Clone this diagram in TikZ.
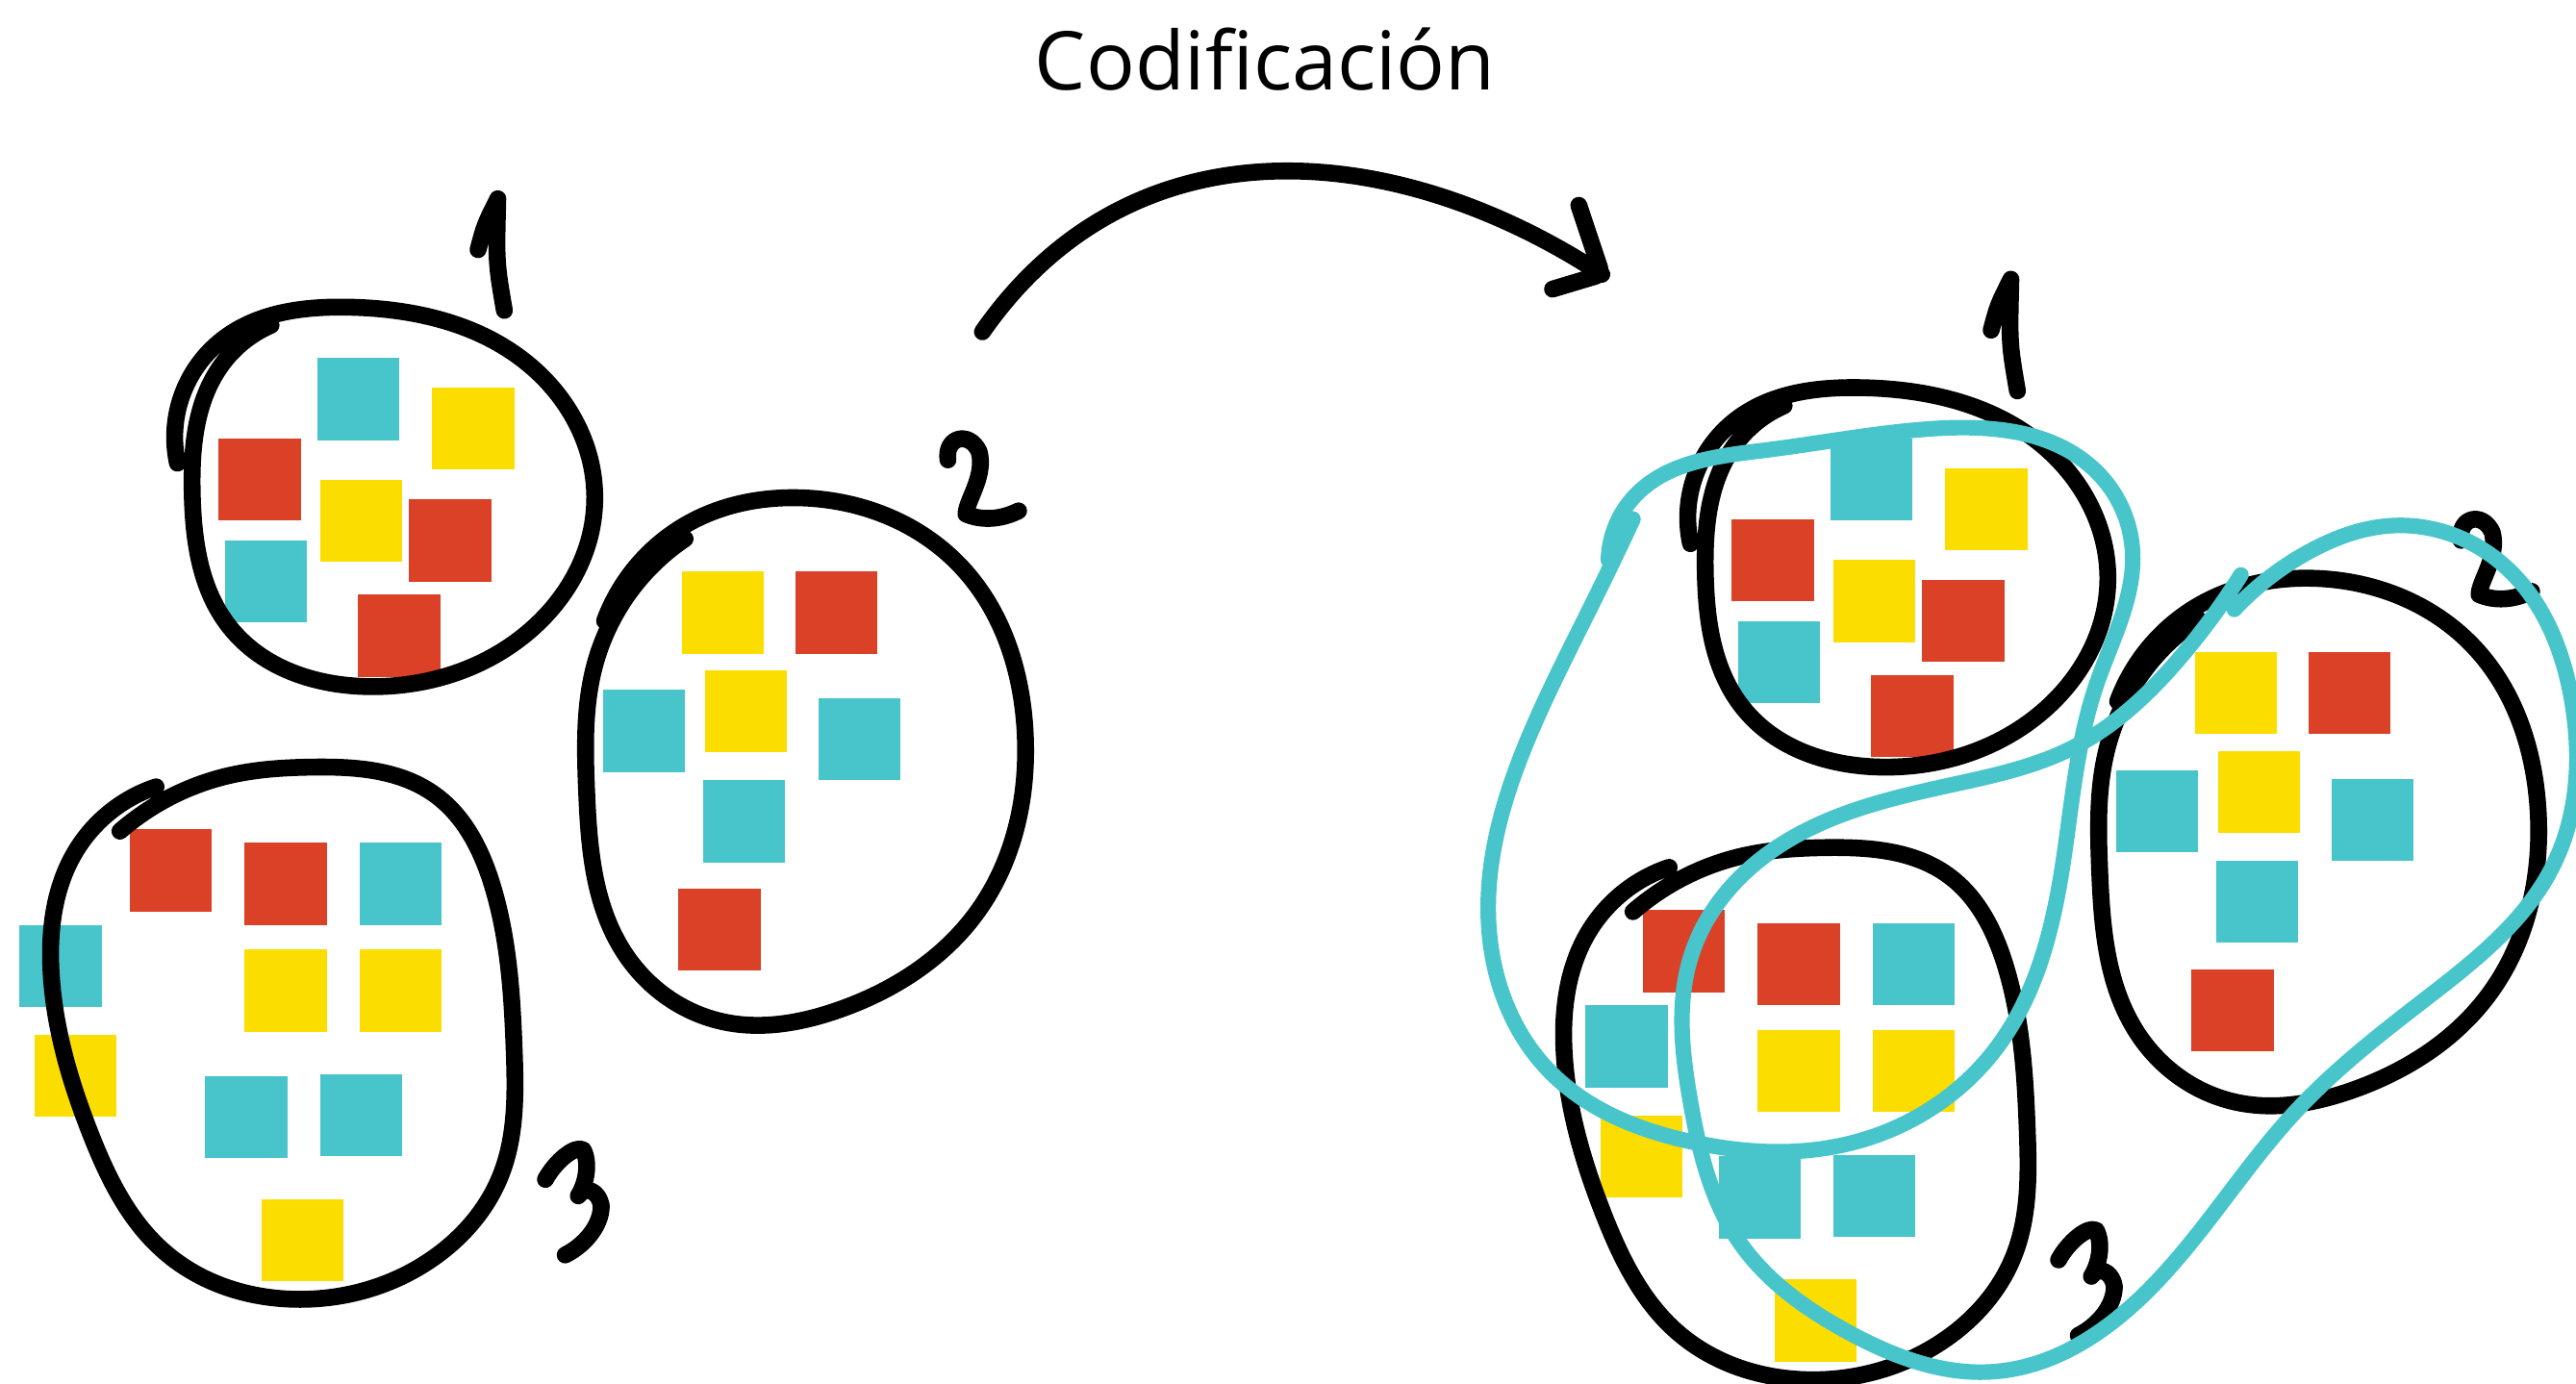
\documentclass[tikz,border=0pt]{standalone}
\usepackage{fontspec}
\setmainfont{Open Sans}
\usetikzlibrary{hobby}

\definecolor{rojo}{RGB}{218,65,38}
\definecolor{amarillo}{RGB}{252,221,0}
\definecolor{cian}{RGB}{72,197,203}

\tikzset{
  trazo/.style={line width=5pt, line cap=round, line join=round},
  lazo/.style={cian, line width=4.6pt, line cap=round, line join=round},
  curva/.style={use Hobby shortcut},
}

% cuadro de color (50 x 50)
\newcommand{\cuadro}[3]{\fill[#1] (#2,#3) rectangle ++(50,50);}

% Grupo 1
\newcommand{\grupoUno}{%
  \cuadro{cian}{193}{218}
  \cuadro{amarillo}{263}{236}
  \cuadro{rojo}{133}{267}
  \cuadro{amarillo}{195}{292}
  \cuadro{rojo}{249}{304}
  \cuadro{cian}{137}{329}
  \cuadro{rojo}{218}{362}
  \draw[trazo, curva] (108,282) .. (135,207) .. (212,187) .. (322,222) .. (362,305) .. (315,390) .. (225,418) .. (140,382) .. (117,300) .. (135,222) .. (165,198);
  \draw[trazo] (291,152) .. controls (295,137) .. (303,121) .. controls (302,160) .. (307,189);
}

% Grupo 2
\newcommand{\grupoDos}{%
  \cuadro{amarillo}{415}{348}
  \cuadro{rojo}{484}{348}
  \cuadro{cian}{367}{420}
  \cuadro{amarillo}{429}{408}
  \cuadro{cian}{498}{425}
  \cuadro{cian}{428}{475}
  \cuadro{rojo}{413}{541}
  \draw[trazo, curva] (368,378) .. (420,318) .. (484,303) .. (585,345) .. (624,446) .. (595,555) .. (510,615) .. (440,622) .. (380,580) .. (357,480) .. (362,405) .. (417,328);
  \draw[trazo] (577,280) .. controls (575,266) and (590,262) .. (596,275) .. controls (600,290) and (588,305) .. (588,313) .. controls (600,318) and (612,315) .. (620,311);
}

% Grupo 3 (#1 = desplazamiento de los dos cuadros de la izquierda)
\newcommand{\grupoTres}[1]{%
  \cuadro{rojo}{79}{505}
  \cuadro{rojo}{149}{513}
  \cuadro{cian}{219}{513}
  \cuadro{cian}{12+#1}{563}
  \cuadro{amarillo}{149}{578}
  \cuadro{amarillo}{219}{578}
  \cuadro{amarillo}{21+#1}{630}
  \cuadro{cian}{125}{655}
  \cuadro{cian}{195}{654}
  \cuadro{amarillo}{159}{730}
  \draw[trazo, curva] (73,506) .. (140,472) .. (190,467) .. (265,484) .. (300,540) .. (313,640) .. (305,715) .. (265,765) .. (183,791) .. (100,762) .. (55,690) .. (31,590) .. (45,520) .. (95,479);
  \draw[trazo] (332,718) .. controls (338,707) and (350,697) .. (355,700) .. controls (359,708) and (357,720) .. (352,728) .. controls (356,722) and (364,724) .. (366,734) .. controls (366,746) and (356,758) .. (344,764);
}

\begin{document}
\begin{tikzpicture}[x=0.017079cm, y=-0.017079cm]
\useasboundingbox (0,0) rectangle (1568,842);

% Titulo
\node[anchor=base, font=\fontsize{24}{28}\selectfont] (titulo) at (770,55) {Codificación};

% Grupos sin codificar
\grupoUno
\grupoDos
\grupoTres{0}

% Flecha
\coordinate (flechaini) at (598,202);
\coordinate (flechafin) at (975,167);
\draw[trazo] (flechaini) .. controls (690,70) and (850,85) .. (flechafin);
\draw[trazo, rounded corners=2pt] (961,125) -- (flechafin) -- (945,176);

% Grupos codificados
\begin{scope}[shift={(921,49)}]
\grupoUno
\grupoDos
\grupoTres{32}
\end{scope}

% Lazos
\draw[lazo, curva] (979,341) .. (996,301) .. (1075,274) .. (1176,261) .. (1276,287) .. (1298,335) .. (1276,417) .. (1255,530) .. (1216,637) .. (1122,697) .. (1029,695) .. (944,653) .. (906,560) .. (930,450) .. (970,366) .. (994,316);
\draw[lazo, curva] (1360,371) .. (1407,335) .. (1456,320) .. (1525,345) .. (1566,430) .. (1555,525) .. (1474,610) .. (1397,677) .. (1313,780) .. (1214,835) .. (1125,811) .. (1058,755) .. (1029,671) .. (1030,580) .. (1086,513) .. (1187,478) .. (1262,455) .. (1329,398) .. (1364,350);

\end{tikzpicture}
\end{document}
